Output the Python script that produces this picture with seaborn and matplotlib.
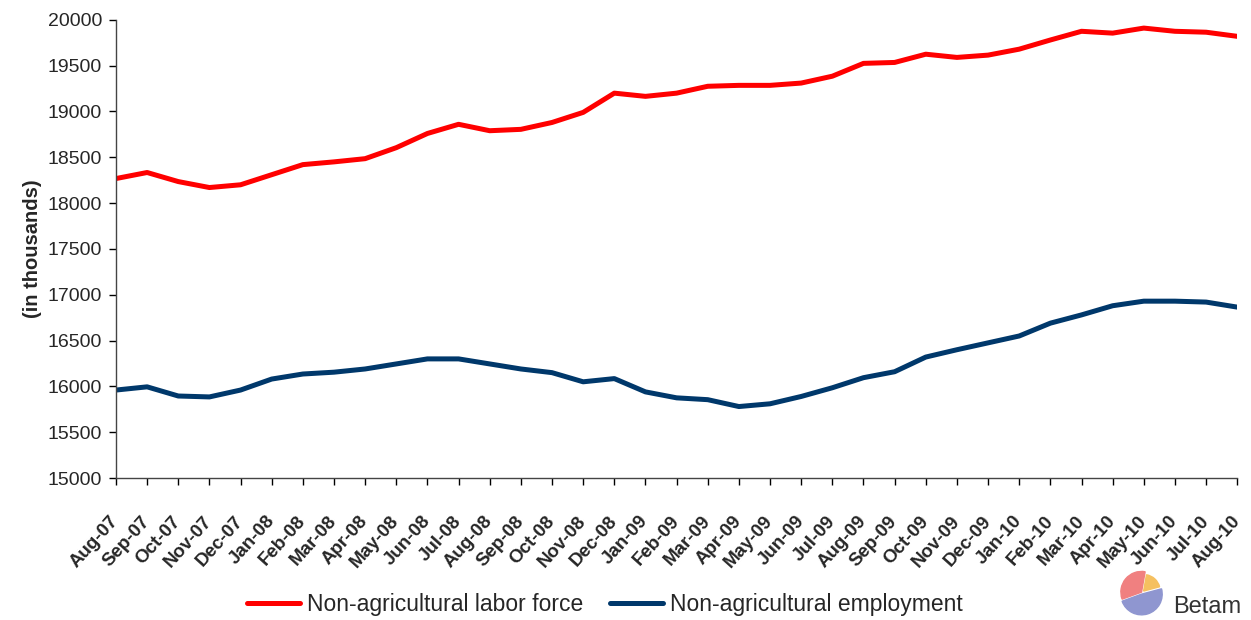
import matplotlib
matplotlib.use("Agg")
import matplotlib.pyplot as plt
from matplotlib.patches import Wedge
from matplotlib.transforms import ScaledTranslation
import seaborn as sns
import pandas as pd

months = ["Aug-07", "Sep-07", "Oct-07", "Nov-07", "Dec-07", "Jan-08", "Feb-08", "Mar-08",
          "Apr-08", "May-08", "Jun-08", "Jul-08", "Aug-08", "Sep-08", "Oct-08", "Nov-08",
          "Dec-08", "Jan-09", "Feb-09", "Mar-09", "Apr-09", "May-09", "Jun-09", "Jul-09",
          "Aug-09", "Sep-09", "Oct-09", "Nov-09", "Dec-09", "Jan-10", "Feb-10", "Mar-10",
          "Apr-10", "May-10", "Jun-10", "Jul-10", "Aug-10"]

labor_force = [18268, 18334, 18235, 18170, 18200, 18310, 18420, 18450,
               18485, 18605, 18760, 18860, 18790, 18805, 18880, 18990,
               19200, 19165, 19200, 19275, 19285, 19285, 19310, 19385,
               19525, 19535, 19625, 19590, 19615, 19680, 19780, 19875,
               19855, 19910, 19875, 19865, 19820]

employment = [15960, 15995, 15895, 15885, 15960, 16080, 16135, 16155,
              16190, 16245, 16300, 16300, 16245, 16190, 16150, 16050,
              16085, 15940, 15875, 15855, 15780, 15810, 15890, 15985,
              16095, 16160, 16320, 16400, 16475, 16550, 16690, 16780,
              16880, 16930, 16930, 16920, 16865]

series_names = ["Non-agricultural labor force", "Non-agricultural employment"]
colors = ["#FF0000", "#00386B"]

df = pd.DataFrame({
    "idx": list(range(len(months))) * 2,
    "value": labor_force + employment,
    "series": [series_names[0]] * len(months) + [series_names[1]] * len(months),
})

sns.set_theme(style="ticks")
plt.rcParams["font.family"] = ["Liberation Sans", "DejaVu Sans"]

fig = plt.figure(figsize=(12.51, 6.2), dpi=100)
ax = fig.add_axes([0.0927, 0.229, 0.8963, 0.739])

sns.lineplot(data=df, x="idx", y="value", hue="series", palette=colors,
             linewidth=3.6, ax=ax, legend=True)

ax.set_xlim(0, len(months) - 1)
ax.set_ylim(15000, 20000)
ax.set_yticks(range(15000, 20001, 500))
ax.set_xticks(range(len(months)))
ax.set_xticklabels(months, rotation=48, ha="right", va="center", rotation_mode="anchor",
                   fontsize=13.5, fontweight="bold")
offset = ScaledTranslation(-14 / 100, 0, fig.dpi_scale_trans)
for lbl in ax.get_xticklabels():
    lbl.set_transform(lbl.get_transform() + offset)
for lbl in ax.get_yticklabels():
    lbl.set_fontsize(14)
ax.tick_params(axis="both", direction="out", length=5, width=1, color="black")
ax.tick_params(axis="y", pad=5)
ax.tick_params(axis="x", pad=24)
ax.set_xlabel("")
ax.set_ylabel("(in thousands)", fontsize=14.5, fontweight="bold", labelpad=4)
for s in ["top", "right"]:
    ax.spines[s].set_visible(False)
for s in ["left", "bottom"]:
    ax.spines[s].set_color("#444444")
    ax.spines[s].set_linewidth(1)

leg = ax.legend(loc="center", bbox_to_anchor=(0.436, -0.277), ncol=2,
                frameon=False, fontsize=16.5, handlelength=2.3, columnspacing=1.2,
                handletextpad=0.3)
for line in leg.get_lines():
    line.set_linewidth(3.6)

# logo approximation
lax = fig.add_axes([0.885, 0.005, 0.055, 0.08])
lax.set_xlim(-1.2, 1.2)
lax.set_ylim(-1.2, 1.2)
lax.set_aspect("equal")
lax.axis("off")
lax.add_patch(Wedge((0, 0), 1.0, 80, 200, color="#F08080"))
lax.add_patch(Wedge((0.1, 0.05), 0.8, 15, 80, color="#F5C060"))
lax.add_patch(Wedge((0, -0.1), 1.0, 200, 375, color="#8F96D0"))
fig.text(0.938, 0.004, "Betam", fontsize=17, color="#333333", ha="left", va="bottom")

fig.savefig("out.png", dpi=100)
